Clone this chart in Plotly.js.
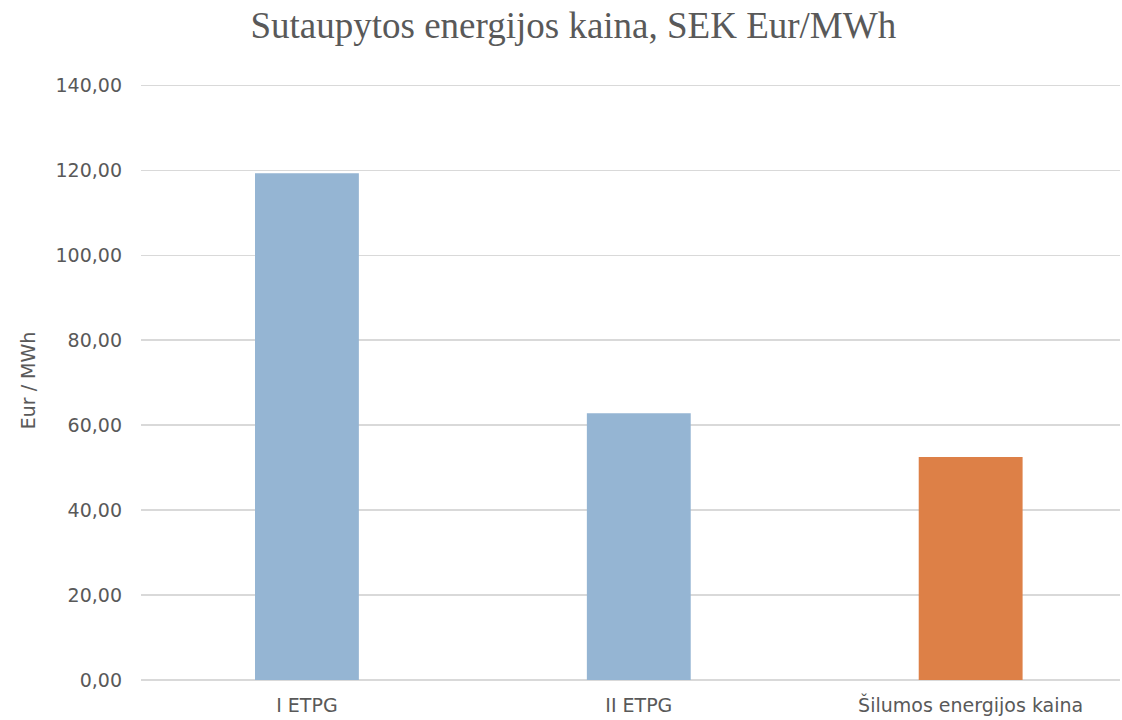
<!DOCTYPE html>
<html><head><meta charset="utf-8">
<script src="https://cdn.plot.ly/plotly-3.0.1.min.js"></script>
<style>body{margin:0;background:#fff}#c{width:1122px;height:720px}</style>
</head><body><div id="c"></div>
<script>
const categories = ["I ETPG", "II ETPG", "Šilumos energijos kaina"];
const values = [119.3, 62.8, 52.5];
const barColors = ["#95B5D3", "#95B5D3", "#DD8047"];
const yTicks = [0, 20, 40, 60, 80, 100, 120, 140];
const yTickLabels = ["0,00", "20,00", "40,00", "60,00", "80,00", "100,00", "120,00", "140,00"];

const tickFont = {family: "DejaVu Sans, sans-serif", size: 19, color: "#595959"};
const trace = {
  type: "bar",
  x: [0, 1, 2],
  y: values,
  width: 0.313,
  marker: {color: barColors},
  hoverinfo: "skip"
};
const layout = {
  width: 1122, height: 720,
  margin: {l: 141, r: 2, t: 81, b: 40},
  paper_bgcolor: "#fff", plot_bgcolor: "#fff",
  showlegend: false,
  title: {text: "Sutaupytos energijos kaina, SEK Eur/MWh", x: 0.511, xanchor: "center", xref: "container", y: 0.965, yanchor: "middle",
    font: {family: "Liberation Serif, Times New Roman, serif", size: 37, color: "#595959"}},
  xaxis: {range: [-0.5, 2.45], tickvals: [0, 1, 2], ticktext: categories, showgrid: false, zeroline: false,
    showline: false, ticks: "", fixedrange: true, ticklabelstandoff: 12,
    tickfont: tickFont},
  yaxis: {range: [0, 141], tickvals: yTicks, ticktext: yTickLabels, showgrid: true, gridcolor: "#d9d9d9", gridwidth: 1.3,
    zeroline: true, zerolinecolor: "#d9d9d9", zerolinewidth: 1.3, ticks: "", ticklabelstandoff: 18,
    tickfont: tickFont,
    title: {text: "Eur / MWh", standoff: 14, font: tickFont}}
};
Plotly.newPlot("c", [trace], layout, {displayModeBar: false, staticPlot: true});
</script></body></html>
